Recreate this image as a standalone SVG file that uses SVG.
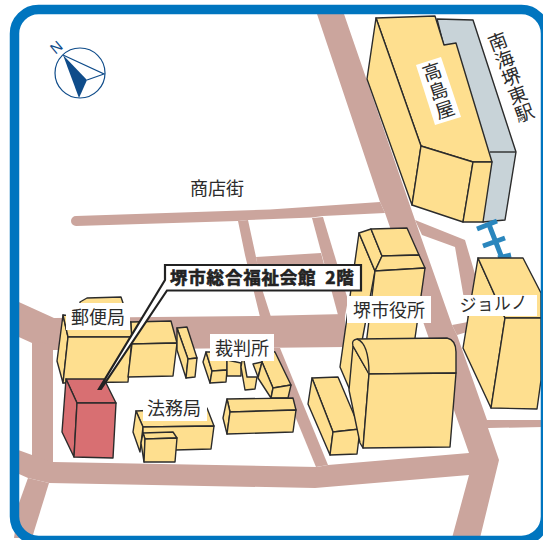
<svg xmlns="http://www.w3.org/2000/svg" width="543" height="540" viewBox="0 0 543 540">
<style>
.road{fill:#cba59d;stroke:none}
.b{fill:#fedf8f;stroke:#2b2b2b;stroke-width:1.4;stroke-linejoin:round}
.l{fill:#fff;stroke:none}
.t{font-family:"Noto Sans CJK JP",sans-serif;font-size:18px;fill:#2b2b2b;text-anchor:middle}
.v{writing-mode:vertical-rl}
</style>
<rect width="543" height="540" fill="#fff"/>
<g id="roads">
<polygon class="road" points="10,298 54,318 260,316 345,314 345,347 53,350 32,343 10,333"/>
<polygon class="road" points="32,340 53,345 53,465 32,460"/>
<polygon class="road" points="10,447 32,455 53,462 317,467 328,465 469,453 480,453 480,473 469,475 315,488 49,483 28,478 10,470"/>
<polygon class="road" points="28,478 49,483 32,538 14,538 19,503"/>
<polygon class="road" points="317,14 344,14 415,220 452,325 457,335 487,420 543,420 543,427 488,428 499,460 480,538 452,538 469,475 469,453 455,413 385,213 380,202"/>
<polygon class="road" points="267,348 280,348 328,465 316,467"/>
<path class="road" d="M76,216 L270,209.500 L380,202 L385,213 L323,216 L312,217.500 L248,220 L238,221 L76,226 A5,5 0 0 1 76,216Z"/>
<polygon class="road" points="238,221 248,220 256,257 263,292 271,317 260,317 245,255"/>
<polygon class="road" points="256,257 321,253 325,268 258,268"/>
<polygon class="road" points="312,218 323,217 348,300 345,316 338,315"/>
<polygon class="road" points="415,220 465,240 490,325 457,335 452,325 468,322 455,247 422,235"/>
</g>
<g id="rail">
<polygon points="437,19 473,20 516,152 505,220 483,222 470,150" fill="#c8d3d8" stroke="#2b2b2b" stroke-width="1.4" stroke-linejoin="round"/>
<line x1="490" y1="152" x2="516" y2="152" stroke="#2b2b2b" stroke-width="1.4"/>
<path d="M488,222 L502,258 M477,229 L497,221 M483,246 L505,238 M498,258 L511,255" fill="none" stroke="#2a86bd" stroke-width="5"/>
</g>
<g id="takashimaya">
<polygon class="b" points="376,18 435,16 444,45 456,43 492,162 473,162 421,146"/>
<polygon class="b" points="376,18 367,79 412,205 421,146"/>
<polygon class="b" points="421,146 412,205 463,222 473,162"/>
<polygon class="b" points="473,162 463,222 483,222 492,162"/>
<polygon class="l" points="416,65 441,57 461,117 435,125"/>
<text class="t v" transform="translate(438.500,91) rotate(-18.500)" x="0" y="0" style="font-size:19px;letter-spacing:1px">高島屋</text>
</g>
<text id="station" class="t v" transform="translate(511,77) rotate(-20.500)" x="0" y="0" style="font-size:19px">南海堺東駅</text>
<g id="joruno">
<polygon class="b" points="478,258 463,348 491,408 505,318"/>
<polygon class="b" points="478,258 523,258 541,293 541,318 505,318"/>
<polygon class="b" points="505,318 491,408 537,409 541,380 541,318"/>
<rect class="l" x="456" y="295" width="81" height="21"/>
<text class="t" transform="translate(494,310) rotate(-3)" style="font-size:17px">ジョルノ</text>
</g>
<g id="cityhall">
<polygon class="b" points="359,233 340,367 352,395 375,271"/>
<polygon class="b" points="359,233 371,229 382,256 375,271"/>
<polygon class="b" points="371,229 407,228 419,255 382,256"/>
<polygon class="b" points="382,256 419,255 425,268 375,271"/>
<polygon class="b" points="375,271 425,268 414,345 366,345"/>
<rect class="l" x="347" y="296" width="84" height="27"/>
<text class="t" x="389" y="317">堺市役所</text>
</g>
<g id="cityhall2">
<polygon class="b" points="312,378 338,377 360,429 333,432"/>
<polygon class="b" points="312,378 308,404 330,455 333,432"/>
<polygon class="b" points="333,432 360,429 357,454 330,455"/>
<path class="b" d="M353,346 L349,390 L360,443 L363,448 L369,374Z"/>
<path class="b" d="M357,339 L447,338 Q456,340 456,352 L456,373 L369,374 L353,346 Q351,340 357,339Z"/>
<path class="b" d="M369,374 L363,448 L450,447 L456,373Z"/>
<path class="b" d="M357,339 C365,342 369,352 369,374" fill="none"/>
</g>
<g id="post">
<polygon class="b" points="80,302 87,298 121,297 123,303 123,320 80,320"/>
<polygon class="b" points="63,315 57,361 63,383 68,337"/>
<polygon class="b" points="63,315 131,322 132,337 68,337"/>
<polygon class="b" points="68,337 132,337 128,382 63,383"/>
<polygon class="b" points="131,322 171,321 177,343 132,344"/>
<polygon class="b" points="132,344 177,343 173,376 128,377"/>
<polygon class="b" points="177,328 187,327 197,358 188,359"/>
<polygon class="b" points="177,328 177,350 186,378 188,359"/>
<polygon class="b" points="188,359 197,358 195,377 186,378"/>
<rect class="l" x="66" y="303" width="64" height="27"/>
<text class="t" x="98" y="324">郵便局</text>
</g>
<g id="court">
<polygon class="b" points="206,352 203,362 210,383 212,371"/>
<polygon class="b" points="206,352 227,352 227,370 212,371"/>
<polygon class="b" points="212,371 227,370 226,382 210,383"/>
<polygon class="b" points="227,360 241,363 241,376 227,376"/>
<polygon class="b" points="243,355 247,377 257,377 255,389 245,390 241,367"/>
<polygon class="b" points="253,364 262,362 258,377"/>
<polygon class="b" points="265,350 275,352 291,385 273,388 262,362"/>
<polygon class="b" points="262,362 273,388 271,398 258,378"/>
<polygon class="b" points="273,388 291,385 288,398 271,398"/>
<rect class="l" x="210" y="334" width="64" height="27"/>
<text class="t" x="242" y="355">裁判所</text>
</g>
<g id="court2">
<polygon class="b" points="227,399 293,398 296,410 230,412"/>
<polygon class="b" points="227,399 223,418 227,434 230,412"/>
<polygon class="b" points="230,412 296,410 293,432 227,434"/>
</g>
<g id="legal">
<polygon class="b" points="136,411 207,408 214,426 143,427"/>
<polygon class="b" points="136,411 133,432 140,452 143,427"/>
<polygon class="b" points="143,427 214,426 211,449 175,450 143,450"/>
<polygon class="b" points="143,433 173,432 177,438 145,439"/>
<polygon class="b" points="143,433 145,439 144,462 141,443"/>
<polygon class="b" points="145,439 177,438 175,462 144,462"/>
<rect class="l" x="143" y="398" width="64" height="23"/>
<text class="t" x="174" y="415">法務局</text>
</g>
<g id="target">
<polygon points="66,379 104,379 116,403 77,403" fill="#d86f72" stroke="#2b2b2b" stroke-width="1.4" stroke-linejoin="round"/>
<polygon points="66,379 62,432 74,457 77,403" fill="#d86f72" stroke="#2b2b2b" stroke-width="1.4" stroke-linejoin="round"/>
<polygon points="77,403 74,457 113,458 116,403" fill="#d86f72" stroke="#2b2b2b" stroke-width="1.4" stroke-linejoin="round"/>
</g>
<g id="callout">
<polygon points="165,265 361,265 361,290.500 167,290.500 101,389 99,389 165,280" fill="#fff" stroke="#222" stroke-width="2.200" stroke-linejoin="miter"/>
<text x="170" y="284" style="font-family:'Noto Sans CJK JP',sans-serif;font-weight:700;font-size:17.500px;letter-spacing:.8px;fill:#222;stroke:#222;stroke-width:.6">堺市総合福祉会館 <tspan dx="4">2階</tspan></text>
</g>
<text id="shopping" class="t" x="217" y="195">商店街</text>
<g id="compass">
<circle cx="80" cy="73" r="25" fill="#fff" stroke="#0f4c8a" stroke-width="1.200"/>
<polygon points="63,55 87,80 79,98" fill="#0f4c8a"/>
<path d="M63,55 L104,74 L87,80" fill="none" stroke="#0f4c8a" stroke-width="1.200"/>
<text transform="translate(56,47) rotate(-40)" y="5.500" text-anchor="middle" style="font-family:'Liberation Sans',sans-serif;font-size:15px;fill:#0f4c8a">N</text>
</g>
<rect id="frame" x="14.500" y="9.500" width="531" height="531" rx="24" fill="none" stroke="#0075bf" stroke-width="9.500"/>
</svg>
